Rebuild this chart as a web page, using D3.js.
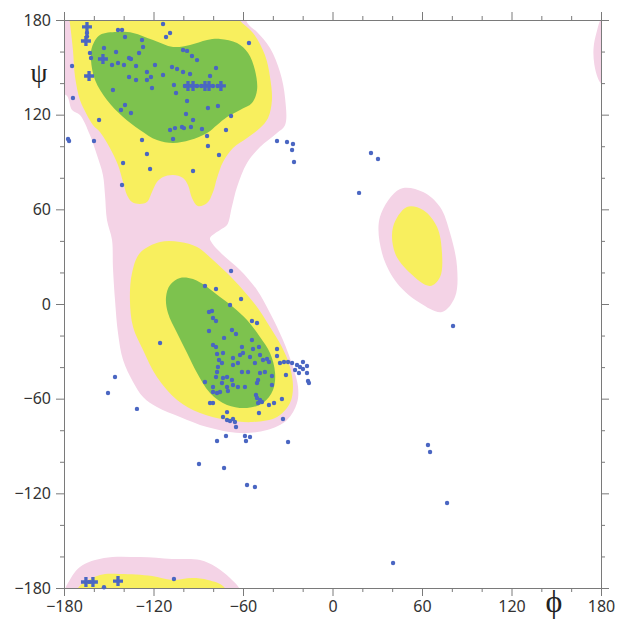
<!DOCTYPE html>
<html>
<head>
<meta charset="utf-8">
<script src="https://cdn.jsdelivr.net/npm/d3@7"></script>
<style>
  body { margin: 0; background: #fff; }
</style>
</head>
<body>
<script>
// Tick values (degrees)
const majorTicks = [-180, -120, -60, 0, 60, 120, 180];
const minorTicks = [-160, -140, -100, -80, -40, -20, 20, 40, 80, 100, 140, 160];

// Region outlines as [phi, psi] (points past +-180 get clipped)
const allowedBeta = [[-190,192],[-62,192],[-57,178],[-50.6,172.4],[-41.9,162.3],[-35.2,147],[-31.8,130.6],[-31.8,113.5],[-37.2,108.4],[-48.6,99.5],[-57.3,89.4],[-64,74.2],[-67.5,61.5],[-70.7,50],[-75.4,46.9],[-82.1,41.8],[-80.8,38.7],[-73.4,31.1],[-62,21.6],[-50.6,8.9],[-41.9,-5.7],[-33.2,-22.8],[-26.5,-39.9],[-23.1,-52.6],[-23.8,-62.7],[-30.5,-73.5],[-43.9,-79.9],[-62,-81.8],[-84.1,-78],[-102.2,-71.6],[-117.7,-65.3],[-127,-58.9],[-133.7,-49.4],[-140.4,-35.5],[-143.8,-18.4],[-145.8,2.5],[-147.2,23.5],[-147.8,40.6],[-151.2,53.2],[-152.5,69],[-153.9,81.8],[-157.9,94.4],[-162.6,107.1],[-169.3,119.8],[-174.6,123],[-178.7,132.5],[-190,130]];
const allowedBottom = [[-190,-190],[-183,-188],[-178,-178],[-169.3,-166.7],[-153.2,-161],[-129.1,-160.4],[-107.6,-161.6],[-88.8,-162.3],[-78.1,-166.7],[-68.7,-173.7],[-62,-181],[-60,-190]];
const allowedWrap = [[190,185],[181,182],[177,172],[175,162],[175.5,152],[178,143],[181,139],[190,139]];
const allowedLeft = [[45.3,72.9],[31.8,55.1],[33.2,32.3],[43.2,13.3],[58.7,0.6],[73.4,-5.1],[82.1,4.4],[83.5,23.5],[78.8,45],[72.1,61.5],[60.7,71]];

const favBetaOuter = [[-178,192],[-176,178],[-174,161],[-172.6,144],[-169.3,129.3],[-165.3,121.1],[-160.6,113.5],[-155.9,109],[-149.2,98.9],[-143.8,88.1],[-140.4,77.3],[-137.8,69.1],[-134.4,64.6],[-129.1,63.4],[-124.4,64.6],[-121,71],[-117.7,77.3],[-113.6,80.5],[-106.9,81.8],[-100.2,79.9],[-96.9,75.4],[-94.2,67.2],[-90.2,62.1],[-84.1,64],[-80.1,71],[-77.4,79.9],[-73.4,90],[-66.7,98.9],[-57.3,105.2],[-48.6,111.5],[-43.2,117.9],[-40.6,129.3],[-41.9,143.9],[-45.3,157.8],[-53.3,171.8],[-63.4,181.3],[-66,192]];
const favAlphaOuter = [[-115.6,39.3],[-129.1,32.3],[-134.4,19.6],[-135.8,2.5],[-133.7,-14.6],[-127,-29.2],[-117.7,-46.3],[-104.2,-60.8],[-88.8,-69.1],[-70.7,-73.5],[-53.3,-74.8],[-37.2,-71.6],[-28.5,-62.7],[-26.5,-52.6],[-28.5,-39.9],[-33.9,-27.3],[-41.9,-14.6],[-50.6,-1.9],[-60,8.9],[-70.7,19.6],[-80.1,27.9],[-90.8,36.1],[-102.2,39.3]];
const favLeft = [[49.9,61.5],[40.6,48.8],[41.9,32.3],[52,19.6],[65.4,11.4],[72.1,17.1],[73.4,32.3],[70.1,48.8],[60.7,59.6]];
const favBottom = [[-190,-190],[-172,-188],[-170.6,-180],[-155.9,-171.8],[-142.5,-171.1],[-121,-172.4],[-107.6,-174.9],[-94.2,-173.7],[-83.5,-174.9],[-72.7,-179.4],[-71,-190]];

const coreBeta = [[-161.2,162.9],[-155.9,170.5],[-144.5,172.4],[-133.7,171.8],[-120.3,167.3],[-106.9,162.9],[-95.5,164.2],[-84.1,167.3],[-75.4,168],[-64,165.4],[-56.6,159.1],[-52,148.3],[-50.6,135.6],[-54,127.4],[-62,123],[-70.7,118.5],[-77.4,113.5],[-84.1,108.4],[-95.5,103.9],[-106.9,102],[-117.7,103.9],[-129.1,110.3],[-140.4,118.5],[-151.2,129.3],[-159.2,142],[-161.9,154.6]];
const coreAlpha = [[-102.2,16.5],[-108.9,12],[-111.6,4.4],[-110.3,-5.7],[-104.2,-18.4],[-97.5,-31.1],[-90.8,-43.7],[-82.1,-56.4],[-70.7,-64],[-57.3,-65.9],[-46.6,-62.7],[-39.9,-54.5],[-38.5,-43.7],[-41.9,-31.1],[-48.6,-20.9],[-57.3,-10.1],[-66.7,-1.9],[-75.4,4.4],[-84.1,10.8],[-93.5,15.8]];

// Residues [phi, psi]
const betaResidues = [[-174.6,150.8],[-174.0,130.6],[-156.5,116.6],[-162.6,159.1],[-161.9,155.9],[-143.8,173.7],[-141.1,173.7],[-139.1,169.2],[-113.6,177.5],[-111.6,169.2],[-108.9,171.8],[-127.7,167.3],[-127.0,162.9],[-129.7,159.1],[-145.1,159.7],[-153.2,162.3],[-147.8,151.5],[-143.8,152.7],[-139.8,151.5],[-131.7,150.8],[-119.0,151.5],[-136.4,155.9],[-135.1,155.3],[-107.6,150.2],[-104.2,148.9],[-136.4,143.9],[-131.7,142.0],[-124.4,147.0],[-121.7,143.9],[-124.4,142.0],[-113.6,145.1],[-121.0,136.9],[-147.2,135.6],[-139.1,126.1],[-141.8,123.0],[-135.1,121.1],[-100.2,161.0],[-97.5,160.4],[-94.2,157.2],[-90.8,154.6],[-56.0,165.4],[-100.2,147.0],[-95.5,145.8],[-78.1,149.6],[-82.1,144.5],[-106.3,138.8],[-104.9,133.7],[-97.5,128.7],[-76.8,125.5],[-83.5,124.2],[-68.0,119.2],[-98.2,120.4],[-93.5,116.6],[-108.9,110.3],[-105.6,111.5],[-100.9,112.2],[-99.6,111.5],[-94.9,112.2],[-87.5,110.9],[-71.4,110.3],[-106.9,104.6],[-84.1,106.5],[-177.3,104.6],[-176.6,103.3],[-159.9,103.3],[-127.7,103.9],[-83.5,100.1],[-124.4,95.1],[-76.1,94.4],[-140.4,89.4],[-122.3,85.6],[-93.5,84.3],[-141.1,75.4],[-37.2,103.3],[-30.5,102.7],[-26.5,101.4],[-27.1,97.6],[-25.8,90.0],[-164.6,171.8],[-164.6,169.5],[-98.9,138.2],[-90.8,138.2],[-88.0,138.2],[-80.1,138.2],[-77.0,138.2]];
const alphaResidues = [[-68.0,20.9],[-85.5,11.4],[-78.1,9.5],[-61.3,3.2],[-68.7,-0.6],[-82.8,-5.1],[-80.8,-4.4],[-80.1,-8.9],[-78.1,-10.8],[-54.0,-10.8],[-50.6,-12.0],[-82.8,-17.1],[-67.4,-16.5],[-64.7,-19.0],[-72.7,-21.5],[-80.1,-26.0],[-78.1,-27.3],[-60.7,-27.3],[-54.0,-22.8],[-53.3,-28.5],[-49.3,-27.3],[-77.4,-31.7],[-73.4,-31.1],[-66.7,-34.2],[-62.0,-32.3],[-60.0,-31.1],[-55.3,-33.6],[-48.6,-32.3],[-37.2,-28.5],[-37.2,-33.0],[-76.1,-35.5],[-74.1,-37.4],[-76.8,-39.9],[-66.7,-38.7],[-63.4,-37.4],[-52.0,-37.4],[-46.6,-35.5],[-43.9,-34.9],[-42.6,-36.8],[-35.2,-37.4],[-32.5,-36.8],[-29.8,-36.8],[-27.1,-37.4],[-23.8,-38.7],[-21.8,-39.9],[-19.8,-36.8],[-17.1,-39.3],[-25.1,-41.8],[-19.8,-41.2],[-77.4,-43.1],[-78.1,-46.3],[-60.7,-43.1],[-56.6,-43.1],[-48.6,-43.7],[-45.3,-43.1],[-40.6,-45.6],[-31.2,-45.0],[-22.5,-43.7],[-17.1,-43.7],[-73.4,-46.9],[-70.7,-46.3],[-67.4,-48.2],[-74.1,-50.1],[-85.5,-49.4],[-80.1,-52.6],[-70.7,-52.6],[-66.7,-51.3],[-63.4,-52.6],[-58.7,-52.6],[-50.6,-50.1],[-49.9,-48.2],[-40.6,-51.3],[-16.4,-48.8],[-15.8,-50.1],[-80.1,-55.8],[-77.4,-56.4],[-75.4,-55.8],[-70.1,-55.1],[-51.3,-57.7],[-50.6,-59.6],[-48.6,-60.8],[-47.3,-62.1],[-82.1,-62.7],[-80.1,-62.7],[-49.9,-62.7],[-42.6,-64.0],[-39.2,-62.7],[-33.9,-60.2],[-70.7,-68.5],[-49.3,-69.1],[-73.4,-71.6],[-70.7,-73.5],[-68.7,-74.2],[-66.7,-72.9],[-65.4,-74.8],[-33.2,-72.9],[-64.7,-78.0]];
const otherResidues = [[-115.6,-24.7],[-145.8,-46.3],[-150.5,-56.4],[-131.1,-66.5],[-71.4,-83.7],[-77.4,-86.8],[-58.7,-83.7],[-55.3,-84.3],[-58.0,-86.8],[-29.8,-87.5],[-89.5,-101.4],[-72.7,-103.9],[-57.3,-114.7],[-52.0,-116.0],[25.8,95.7],[30.5,91.9],[17.8,70.4],[80.8,-13.9],[64.0,-89.4],[65.4,-93.8],[76.8,-126.1],[40.6,-164.2],[-153.2,-179.5],[-106.3,-174.3]];
// Several residues stacked on the same spot (drawn as crosses)
const stackedResidues = [[-164.6,175.6],[-165.3,166.7],[-153.9,155.3],[-163.2,144.5],[-96.9,138.2],[-93.5,138.2],[-85.5,138.2],[-82.8,138.2],[-74.8,138.2],[-165.3,-176.2],[-160.6,-176.2],[-143.8,-175.6]];

const width = 629, height = 631;

const x = d3.scaleLinear().domain([-180, 180]).range([64, 601]);
const y = d3.scaleLinear().domain([-180, 180]).range([588, 20]);

const svg = d3.select("body").append("svg")
    .attr("width", width)
    .attr("height", height);

svg.append("clipPath").attr("id", "plot")
  .append("rect")
    .attr("x", x(-180)).attr("y", y(180))
    .attr("width", x(180) - x(-180)).attr("height", y(-180) - y(180));

const outline = d3.line()
    .x(d => x(d[0]))
    .y(d => y(d[1]))
    .curve(d3.curveCatmullRomClosed.alpha(0.5));

const regions = svg.append("g").attr("clip-path", "url(#plot)");

const pink = "#f4d3e6", yellow = "#f8ef5e", green = "#7dc24e";
[allowedBeta, allowedBottom, allowedWrap, allowedLeft].forEach(r =>
  regions.append("path").attr("d", outline(r)).attr("fill", pink));
[favBetaOuter, favAlphaOuter, favLeft, favBottom].forEach(r =>
  regions.append("path").attr("d", outline(r)).attr("fill", yellow));
[coreBeta, coreAlpha].forEach(r =>
  regions.append("path").attr("d", outline(r)).attr("fill", green));

// Axes: major ticks (long, labelled) and minor ticks (short)
function drawAxis(axisFn, transform, labelled) {
  const gMinor = svg.append("g").attr("transform", transform)
      .call(axisFn(minorTicks).tickSize(4).tickSizeOuter(0).tickFormat(""));
  gMinor.select(".domain").remove();
  const gMajor = svg.append("g").attr("transform", transform)
      .call(axisFn(majorTicks).tickSize(8).tickSizeOuter(8).tickPadding(labelled ? 5 : 0)
        .tickFormat(labelled ? d3.format("d") : ""));
  [gMinor, gMajor].forEach(g => {
    g.selectAll("line").attr("stroke", "#7a7a7a");
    g.selectAll(".domain").attr("stroke", "#7a7a7a");
    g.selectAll("text")
      .attr("fill", "#333")
      .style("font-family", "'Noto Sans', sans-serif")
      .style("font-size", "16px");
  });
}

drawAxis(v => d3.axisLeft(y).tickValues(v), `translate(${x(-180)},0)`, true);
drawAxis(v => d3.axisRight(y).tickValues(v), `translate(${x(180)},0)`, false);
drawAxis(v => d3.axisTop(x).tickValues(v), `translate(0,${y(180)})`, false);
drawAxis(v => d3.axisBottom(x).tickValues(v), `translate(0,${y(-180)})`, true);

// Residues
const dots = svg.append("g").attr("fill", "#4a66c2");
dots.selectAll("circle")
  .data(betaResidues.concat(alphaResidues, otherResidues))
  .join("circle")
    .attr("cx", d => x(d[0]))
    .attr("cy", d => y(d[1]))
    .attr("r", 2.2);

dots.selectAll("path")
  .data(stackedResidues)
  .join("path")
    .attr("d", d3.symbol(d3.symbolCross, 55))
    .attr("transform", d => `translate(${x(d[0])},${y(d[1])})`);

// Axis titles
svg.append("text")
    .attr("x", 39).attr("y", 82)
    .attr("text-anchor", "middle")
    .style("font-family", "'Liberation Serif', serif")
    .style("font-size", "27px")
    .attr("fill", "#222")
    .text("ψ");

svg.append("text")
    .attr("x", 554).attr("y", 612)
    .attr("text-anchor", "middle")
    .style("font-family", "'Liberation Serif', serif")
    .style("font-size", "32px")
    .attr("fill", "#222")
    .text("ϕ");
</script>
</body>
</html>
